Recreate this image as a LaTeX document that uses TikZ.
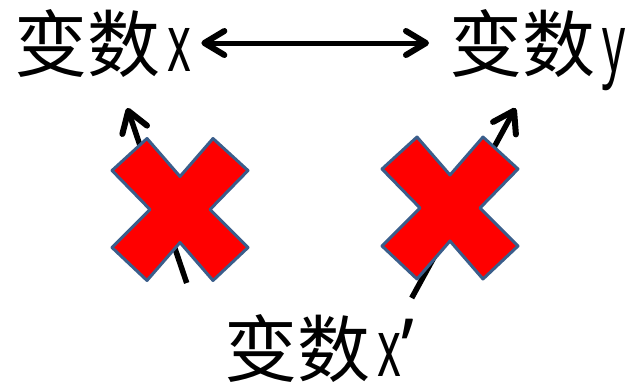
\documentclass[tikz,border=0pt]{standalone}
\usepackage{fontspec}
\usepackage{graphicx}
\usetikzlibrary{arrows.meta}
\newfontfamily\cjk{Noto Sans CJK SC}
\newfontfamily\latn{Noto Sans}
\newcommand{\nx}{\hspace{7pt}{\latn\scalebox{0.62}[1.1]{x}}}
\newcommand{\ny}{\hspace{7pt}{\latn\scalebox{0.62}[1.1]{y}}}
\definecolor{xred}{HTML}{FF0000}
\definecolor{xedge}{HTML}{3A5E8B}
\tikzset{
  lbl/.style={inner sep=0pt, anchor=base west, font=\fontsize{73}{73}\selectfont\cjk},
  arr/.style={line width=5.5pt, -{Straight Barb[length=20pt,width=26pt,line width=6pt,round]}},
  dbl/.style={line width=5pt, {Straight Barb[length=20pt,width=24pt,line width=6pt,round]}-{Straight Barb[length=20pt,width=24pt,line width=6pt,round]}},
  cross/.style={fill=xred, draw=xedge, line width=3pt, line join=round}
}
\begin{document}
\begin{tikzpicture}[x=1pt,y=-1pt]
\useasboundingbox (0,0) rectangle (628,389);
\node[lbl] (vx) at (14,71) {变数\nx};
\node[lbl] (vy) at (449,71) {变数\ny};
\node[lbl] (vxp) at (224,376) {变数\nx{\latn\scalebox{1}[1.1]{’}}};
\draw[dbl, shorten <=10pt, shorten >=20pt] (vx.east |- 0,43) coordinate (ta) -- (vy.west |- 0,43) coordinate (tb);
\coordinate (a1) at (186.7,283);
\coordinate (b1) at (127.3,108);
\coordinate (a2) at (411.7,298);
\coordinate (b2) at (515.5,108);
\draw[arr] (a1) -- (b1);
\draw[arr] (a2) -- (b2);
\foreach \cx/\cy in {180/209.5, 450/208}{
  \draw[cross, shift={(\cx,\cy)}] (-33,-71) -- (0,-33) -- (33,-71) -- (68,-39) -- (30,0) -- (68,38) -- (33,71) -- (0,33) -- (-33,71) -- (-68,38) -- (-30,0) -- (-68,-39) -- cycle;
}
\end{tikzpicture}
\end{document}
